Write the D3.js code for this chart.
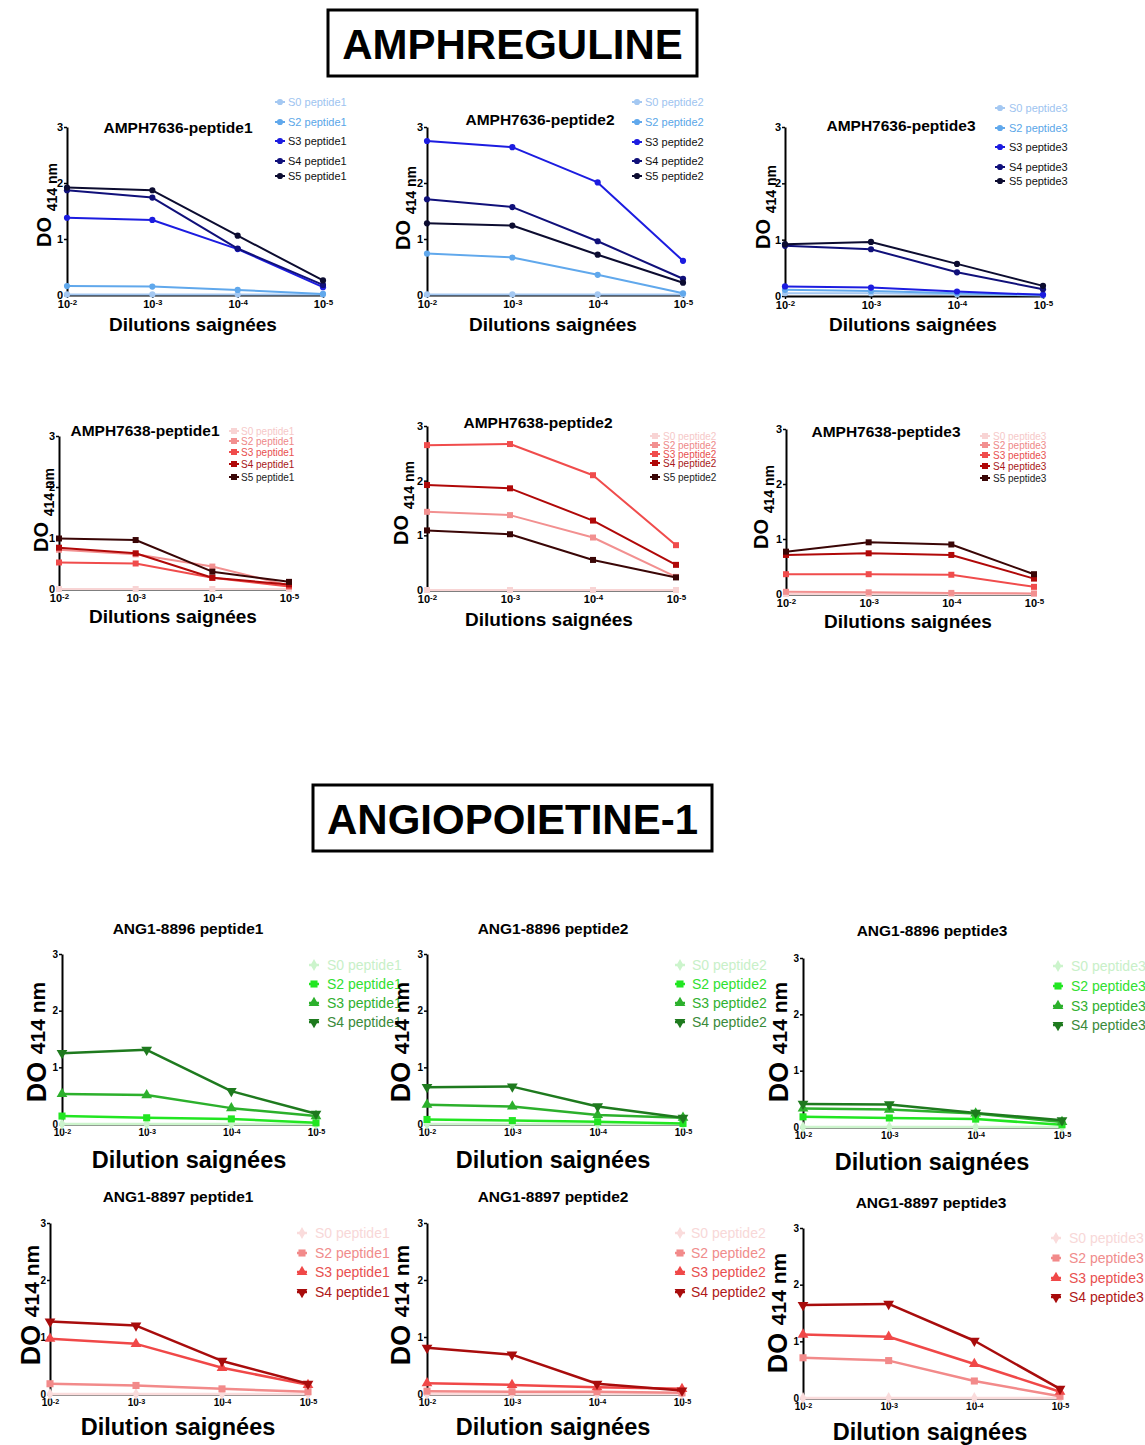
<!DOCTYPE html>
<html><head><meta charset="utf-8">
<script src="https://cdn.jsdelivr.net/npm/d3@7"></script>
<style>body{margin:0;background:#fff}svg{display:block}text{font-family:"Liberation Sans",Arial,sans-serif}</style>
</head><body><svg id="c" width="1145" height="1445"></svg>
<script>
// ---------- DATA ----------
const dilutions = ["1e-2","1e-3","1e-4","1e-5"];
const dilutionExp = ["-2","-3","-4","-5"];
const yTicks = [0,1,2,3];
const seriesAMPH = ["S0","S2","S3","S4","S5"];
const seriesANG = ["S0","S2","S3","S4"];
const sectionTitles = ["AMPHREGULINE","ANGIOPOIETINE-1"];
const panelTitles = ["AMPH7636-peptide1","AMPH7636-peptide2","AMPH7636-peptide3",
  "AMPH7638-peptide1","AMPH7638-peptide2","AMPH7638-peptide3",
  "ANG1-8896 peptide1","ANG1-8896 peptide2","ANG1-8896 peptide3",
  "ANG1-8897 peptide1","ANG1-8897 peptide2","ANG1-8897 peptide3"];
const peptides = ["peptide1","peptide2","peptide3"];
const xLabelsAMPH = "Dilutions saignées";
const xLabelsANG = "Dilution saignées";

const amph7636_pep1 = [[0.01,0.01,0.01,0.01],[0.16,0.15,0.09,0.02],[1.38,1.34,0.82,0.14],[1.87,1.74,0.83,0.18],[1.92,1.87,1.06,0.26]];
const amph7636_pep2 = [[0.01,0.01,0.01,0.01],[0.74,0.67,0.36,0.03],[2.75,2.64,2.01,0.61],[1.71,1.57,0.96,0.29],[1.28,1.24,0.72,0.22]];
const amph7636_pep3 = [[0.05,0.05,0.03,0.01],[0.11,0.09,0.05,0.02],[0.17,0.15,0.08,0.02],[0.89,0.83,0.42,0.12],[0.92,0.96,0.57,0.18]];
const amph7638_pep1 = [[0,0,0,0],[0.77,0.68,0.44,0.07],[0.52,0.50,0.22,0.05],[0.81,0.70,0.22,0.09],[0.99,0.96,0.34,0.14]];
const amph7638_pep2 = [[0,0,0,0],[1.43,1.37,0.96,0.24],[2.65,2.67,2.10,0.82],[1.92,1.86,1.27,0.46],[1.09,1.02,0.55,0.23]];
const amph7638_pep3 = [[0,0,0,0],[0.04,0.03,0.02,0.01],[0.36,0.36,0.35,0.13],[0.71,0.74,0.71,0.28],[0.77,0.94,0.90,0.36]];
const ang8896_pep1 = [[0,0,0,0],[0.14,0.11,0.09,0.02],[0.53,0.51,0.28,0.14],[1.25,1.31,0.58,0.18]];
const ang8896_pep2 = [[0,0,0,0],[0.08,0.06,0.04,0.01],[0.34,0.31,0.16,0.11],[0.65,0.66,0.31,0.11]];
const ang8896_pep3 = [[0,0,0,0],[0.18,0.16,0.14,0.04],[0.33,0.31,0.24,0.09],[0.41,0.40,0.25,0.12]];
const ang8897_pep1 = [[0,0,0,0],[0.18,0.15,0.09,0.04],[0.97,0.88,0.46,0.16],[1.27,1.20,0.58,0.18]];
const ang8897_pep2 = [[0,0,0,0],[0.05,0.04,0.04,0.02],[0.19,0.16,0.12,0.09],[0.81,0.69,0.18,0.06]];
const ang8897_pep3 = [[0,0,0,0],[0.71,0.66,0.30,0.03],[1.12,1.08,0.60,0.11],[1.64,1.66,1.01,0.16]];

// ---------- STYLES ----------
const palBlue = {line:["#a4c8f2","#60a8ec","#1c1ce0","#10107a","#0c0c30"], text:["#9ec4f0","#5aa6e8","#111","#111","#111"], marker:"circle"};
const palRed5 = {line:["#f8d4d4","#f29090","#f04c4c","#b00808","#3a0606"], text:["#f6c8c8","#ee8888","#e85050","#a81818","#222"], marker:"square"};
const palGreen = {line:["#ccf4cc","#22e622","#2cb02c","#1e7a1e"], text:["#c8f0c8","#30e030","#30b030","#3a8a3a"], marker:"ang"};
const palRed4 = {line:["#fadcdc","#f28a8a","#f04848","#a80c0c"], text:["#f8d8d8","#f08c8c","#e85050","#b01818"], marker:"ang"};

const A = {lw:2, tick:11, legFont:11, yl:[20,14,6], xl:19, tf:15.5};
const A2 = {lw:2, tick:11, legFont:10, yl:[20,14,6], xl:19, tf:15.5};
const G = {lw:2.5, tick:10, legFont:14, yl:[27,21,-1], xl:23.5, tf:15.5};

const panels = [
 {data:amph7636_pep1, ser:seriesAMPH, pep:0, pal:palBlue, st:A, x0:67,x1:323,yT:127,yB:295, t:[178,133], leg:[280,288,[102,122,141,161,176]], yl:[51,205], xl:[193,331]},
 {data:amph7636_pep2, ser:seriesAMPH, pep:1, pal:palBlue, st:A, x0:427,x1:683,yT:127,yB:295, t:[540,125], leg:[637,645,[102,122,142,161,176]], yl:[410,208], xl:[553,331]},
 {data:amph7636_pep3, ser:seriesAMPH, pep:2, pal:palBlue, st:A, x0:785,x1:1043,yT:127,yB:296, t:[901,131], leg:[1000,1009,[108,128,147,167,181]], yl:[770,207], xl:[913,331]},
 {data:amph7638_pep1, ser:seriesAMPH, pep:0, pal:palRed5, st:A2, x0:59,x1:289,yT:436,yB:589, t:[145,436], leg:[234,241,[431,441,452,464,477]], yl:[48,510], xl:[173,623]},
 {data:amph7638_pep2, ser:seriesAMPH, pep:1, pal:palRed5, st:A2, x0:427,x1:676,yT:426,yB:590, t:[538,428], leg:[655,663,[436,445,454,463,477]], yl:[408,503], xl:[549,626]},
 {data:amph7638_pep3, ser:seriesAMPH, pep:2, pal:palRed5, st:A2, x0:786,x1:1034,yT:429,yB:594, t:[886,437], leg:[985,993,[436,445,455,466,478]], yl:[768,507], xl:[908,628]},
 {data:ang8896_pep1, ser:seriesANG, pep:0, pal:palGreen, st:G, x0:62,x1:316,yT:954,yB:1124, t:[188,934], leg:[314,327,[965,984,1003,1022]], yl:[46,1042], xl:[189,1168]},
 {data:ang8896_pep2, ser:seriesANG, pep:1, pal:palGreen, st:G, x0:427,x1:683,yT:954,yB:1124, t:[553,934], leg:[680,692,[965,984,1003,1022]], yl:[410,1042], xl:[553,1168]},
 {data:ang8896_pep3, ser:seriesANG, pep:2, pal:palGreen, st:G, x0:803,x1:1062,yT:958,yB:1127, t:[932,936], leg:[1058,1071,[966,986,1006,1025]], yl:[788,1042], xl:[932,1170]},
 {data:ang8897_pep1, ser:seriesANG, pep:0, pal:palRed4, st:G, x0:50,x1:308,yT:1223,yB:1394, t:[178,1202], leg:[302,315,[1233,1253,1272,1292]], yl:[40,1305], xl:[178,1435]},
 {data:ang8897_pep2, ser:seriesANG, pep:1, pal:palRed4, st:G, x0:427,x1:682,yT:1223,yB:1394, t:[553,1202], leg:[680,691,[1233,1253,1272,1292]], yl:[410,1305], xl:[553,1435]},
 {data:ang8897_pep3, ser:seriesANG, pep:2, pal:palRed4, st:G, x0:803,x1:1060,yT:1228,yB:1398, t:[931,1208], leg:[1056,1069,[1238,1258,1278,1297]], yl:[787,1313], xl:[930,1440]}
];

const svg = d3.select("#c");
svg.append("rect").attr("width",1145).attr("height",1445).attr("fill","#fff");

// section titles
const boxes = [{x:328,y:10,w:369,h:66,cy:59},{x:313,y:785,w:399,h:66,cy:834}];
sectionTitles.forEach((t,i)=>{
  const b = boxes[i];
  svg.append("rect").attr("x",b.x).attr("y",b.y).attr("width",b.w).attr("height",b.h)
    .attr("fill","none").attr("stroke","#000").attr("stroke-width",3);
  svg.append("text").attr("x",b.x+b.w/2).attr("y",b.cy).attr("text-anchor","middle")
    .attr("font-size",42).attr("font-weight","bold").text(t);
});

function symbolFor(pal, i){
  if (pal.marker==="circle") return {type:d3.symbolCircle,size:30,rot:0};
  if (pal.marker==="square") return {type:d3.symbolSquare,size:36,rot:0};
  return [{type:d3.symbolDiamond,size:40,rot:0},{type:d3.symbolSquare,size:50,rot:0},
          {type:d3.symbolTriangle,size:50,rot:0},{type:d3.symbolTriangle,size:50,rot:180}][i];
}

panels.forEach((p,pi)=>{
  const g = svg.append("g");
  const st = p.st;
  const x = d3.scalePoint().domain(dilutions).range([p.x0,p.x1]);
  const y = d3.scaleLinear().domain([0,3]).range([p.yB,p.yT]);

  const ya = g.append("g").attr("transform",`translate(${p.x0},0)`)
    .call(d3.axisLeft(y).tickValues(yTicks).tickSize(3).tickSizeOuter(0).tickPadding(1).tickFormat(d3.format("d")));
  const xa = g.append("g").attr("transform",`translate(0,${p.yB})`)
    .call(d3.axisBottom(x).tickSize(3).tickSizeOuter(0).tickPadding(2));
  [ya,xa].forEach(a=>{
    a.select(".domain").attr("stroke","#000").attr("stroke-width",2);
    a.selectAll(".tick line").attr("stroke","#000").attr("stroke-width",1.5);
    a.selectAll("text").attr("font-size",st.tick).attr("font-weight","bold").attr("fill","#000")
      .attr("font-family",'"Liberation Sans",Arial,sans-serif');
  });
  xa.selectAll(".tick text").each(function(d,i){
    const t = d3.select(this); t.text(null);
    t.append("tspan").text("10");
    t.append("tspan").attr("dy","-0.35em").attr("font-size","0.72em").text(dilutionExp[i]);
  });

  const line = d3.line().x((v,j)=>x(dilutions[j])).y(v=>y(v));
  p.data.forEach((vals,i)=>{
    const col = p.pal.line[i];
    g.append("path").attr("d",line(vals)).attr("fill","none").attr("stroke",col)
      .attr("stroke-width",st.lw).attr("stroke-linejoin","round");
    const s = symbolFor(p.pal,i);
    g.selectAll(null).data(vals).enter().append("path")
      .attr("d",d3.symbol().type(s.type).size(s.size))
      .attr("transform",(v,j)=>`translate(${x(dilutions[j])},${y(v)}) rotate(${s.rot})`)
      .attr("fill",col);
  });

  // title
  g.append("text").attr("x",p.t[0]).attr("y",p.t[1]).attr("text-anchor","middle")
    .attr("font-size",st.tf).attr("font-weight","bold").text(panelTitles[pi]);

  // legend
  p.ser.forEach((s,i)=>{
    const ry = p.leg[2][i];
    const col = p.pal.line[i];
    g.append("line").attr("x1",p.leg[0]-5).attr("x2",p.leg[0]+5).attr("y1",ry).attr("y2",ry)
      .attr("stroke",col).attr("stroke-width",st.lw);
    const sy = symbolFor(p.pal,i);
    g.append("path").attr("d",d3.symbol().type(sy.type).size(sy.size))
      .attr("transform",`translate(${p.leg[0]},${ry}) rotate(${sy.rot})`).attr("fill",col);
    g.append("text").attr("x",p.leg[1]).attr("y",ry+st.legFont*0.36)
      .attr("font-size",st.legFont).attr("fill",p.pal.text[i]).text(`${s} ${peptides[p.pep]}`);
  });

  // y label
  const yl = g.append("text").attr("transform",`translate(${p.yl[0]},${p.yl[1]}) rotate(-90)`)
    .attr("text-anchor","middle").attr("font-weight","bold");
  yl.append("tspan").attr("font-size",st.yl[0]).text("DO ");
  yl.append("tspan").attr("font-size",st.yl[1]).attr("dy",st.yl[2]).text("414 nm");

  // x label
  g.append("text").attr("x",p.xl[0]).attr("y",p.xl[1]).attr("text-anchor","middle")
    .attr("font-size",st.xl).attr("font-weight","bold").text(pi<6?xLabelsAMPH:xLabelsANG);
});
</script></body></html>
